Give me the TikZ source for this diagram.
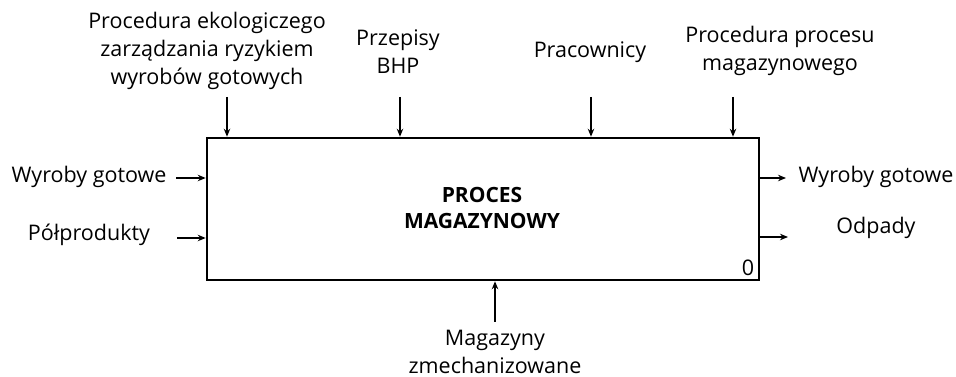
\documentclass[tikz,border=0pt]{standalone}
\usepackage{fontspec}
\setmainfont{Open Sans}
\usetikzlibrary{arrows.meta, positioning}

\begin{document}
\begin{tikzpicture}[
        x=1pt, y=1pt,
        proc/.style={rectangle, draw, line width=2.6pt, minimum width=552pt, minimum height=142pt, inner sep=0pt},
        lbl/.style={align=center, inner sep=0pt, font=\fontsize{21.5}{28}\selectfont},
        ttl/.style={align=center, inner sep=0pt, font=\fontsize{21}{26}\selectfont\bfseries},
        arrow/.style={line width=1.2pt,-{Stealth[length=8pt,width=6.5pt]}}
    ]
        \useasboundingbox (0,0) rectangle (956,377);

        % process box
        \node[proc] (box) at (483,168) {};
        \node[ttl] (title) at (482,169) {PROCES\\MAGAZYNOWY};
        \node[lbl, anchor=south east] (num) at ([xshift=-6pt, yshift=5pt]box.south east) {0};

        % controls
        \node[lbl] (eco) at (207,326) {Procedura ekologiczego\\zarządzania ryzykiem\\wyrobów gotowych};
        \node[lbl] (bhp) at (398,325) {Przepisy\\BHP};
        \node[lbl] (staff) at (590,325) {Pracownicy};
        \node[lbl] (procmag) at (780,326) {Procedura procesu\\magazynowego};
        \coordinate (ecoin) at (227,280);
        \coordinate (bhpin) at (400,280);
        \coordinate (staffin) at (591,280);
        \coordinate (procmagin) at (733,280);

        % inputs
        \node[lbl] (goodsin) at (89,200) {Wyroby gotowe};
        \node[lbl] (semi) at (89,142) {Półprodukty};
        \coordinate (goodsinend) at (176,199);
        \coordinate (semiend) at (177,139);

        % outputs
        \node[lbl] (goodsout) at (876,200) {Wyroby gotowe};
        \node[lbl] (waste) at (876,149) {Odpady};
        \coordinate (goodsoutend) at (786,199);
        \coordinate (wasteend) at (788,140);

        % mechanism
        \node[lbl] (store) at (495,25) {Magazyny\\zmechanizowane};
        \coordinate (storeend) at (495,55);

        \draw[arrow] (ecoin) -- (ecoin |- box.north);
        \draw[arrow] (bhpin) -- (bhpin |- box.north);
        \draw[arrow] (staffin) -- (staffin |- box.north);
        \draw[arrow] (procmagin) -- (procmagin |- box.north);
        \draw[arrow] (goodsinend) -- (goodsinend -| box.west);
        \draw[arrow] (semiend) -- (semiend -| box.west);
        \draw[arrow] (goodsoutend -| box.east) -- (goodsoutend);
        \draw[arrow] (wasteend -| box.east) -- (wasteend);
        \draw[arrow] (storeend) -- (storeend |- box.south);
    \end{tikzpicture}
\end{document}
